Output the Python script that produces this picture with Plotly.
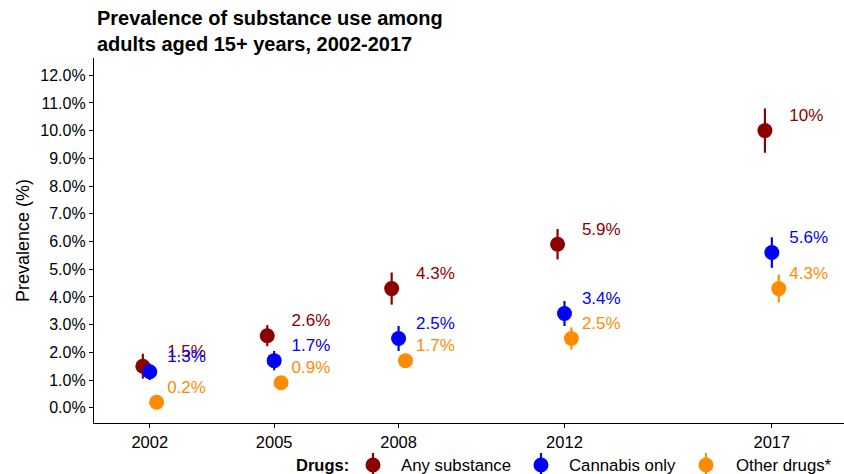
import plotly.graph_objects as go

# Survey years and prevalence estimates (%) with half-width of the 95% CI
years = [2002, 2005, 2008, 2012, 2017]
series_names = ["Any substance", "Cannabis only", "Other drugs*"]
any_substance = [1.5, 2.6, 4.3, 5.9, 10.0]
any_substance_ci = [0.45, 0.38, 0.58, 0.55, 0.8]
cannabis_only = [1.3, 1.7, 2.5, 3.4, 5.6]
cannabis_only_ci = [0.3, 0.35, 0.45, 0.45, 0.55]
other_drugs = [0.2, 0.9, 1.7, 2.5, 4.3]
other_drugs_ci = [0.1, 0.15, 0.25, 0.4, 0.5]
y_ticks = list(range(0, 13))

colors = ["#8B0000", "#0000FF", "#FF8C00"]
values = [any_substance, cannabis_only, other_drugs]
cis = [any_substance_ci, cannabis_only_ci, other_drugs_ci]
dodge = [-1 / 6, 0.0, 1 / 6]

FONT = "Liberation Sans, Arial, Helvetica, sans-serif"

fig = go.Figure()

for name, vals, ci, col, dx in zip(series_names, values, cis, colors, dodge):
    fig.add_trace(go.Scatter(
        x=[y + dx for y in years], y=vals, mode="markers", name=name,
        marker=dict(color=col, size=15, line=dict(width=0)),
        error_y=dict(type="data", array=ci, visible=True, color=col,
                     thickness=2.2, width=0),
        showlegend=False, hoverinfo="skip",
    ))

for name, vals, col in zip(series_names, values, colors):
    fig.add_trace(go.Scatter(
        x=[y + 0.42 for y in years], y=[v + 0.5 for v in vals],
        mode="text", text=[f"{v:g}%" for v in vals],
        textposition="middle right",
        textfont=dict(color=col, size=17, family=FONT),
        showlegend=False, hoverinfo="skip",
    ))

# Plot area in pixels (used to place the title and hand-built legend)
L, R, T, B = 94, 844, 58, 423
W, H = 844, 474


def px_to_paper_x(px):
    return (px - L) / (R - L)


def px_to_paper_y(py):
    return (B - py) / (B - T)


leg_y = px_to_paper_y(465)
shapes = []
annotations = [
    dict(
        text="<b>Prevalence of substance use among<br>adults aged 15+ years, 2002-2017</b>",
        x=px_to_paper_x(95), y=px_to_paper_y(5), xref="paper", yref="paper",
        xanchor="left", yanchor="top", align="left", showarrow=False,
        font=dict(size=20, color="black", family=FONT),
    ),
    dict(
        text="<b>Drugs:</b>", x=px_to_paper_x(294), y=leg_y, xref="paper", yref="paper",
        xanchor="left", yanchor="middle", showarrow=False,
        font=dict(size=16.5, color="black", family=FONT),
    ),
]
legend_marker_px = [373, 541, 706]
legend_text_px = [399, 567, 734]
for name, col, mx, tx in zip(series_names, colors, legend_marker_px, legend_text_px):
    ax = px_to_paper_x(mx)
    shapes.append(dict(type="line", xref="paper", yref="paper",
                       xsizemode="pixel", ysizemode="pixel",
                       xanchor=ax, yanchor=leg_y, x0=0, x1=0, y0=-12, y1=12,
                       line=dict(color=col, width=2.2)))
    shapes.append(dict(type="circle", xref="paper", yref="paper",
                       xsizemode="pixel", ysizemode="pixel",
                       xanchor=ax, yanchor=leg_y, x0=-7.5, x1=7.5, y0=-7.5, y1=7.5,
                       fillcolor=col, line=dict(width=0)))
    annotations.append(dict(
        text=name, x=px_to_paper_x(tx), y=leg_y, xref="paper", yref="paper",
        xanchor="left", yanchor="middle", showarrow=False,
        font=dict(size=16.8, color="black", family=FONT),
    ))

fig.update_layout(
    width=W, height=H,
    margin=dict(l=L, r=W - R, t=T, b=H - B),
    paper_bgcolor="white", plot_bgcolor="white",
    font=dict(family=FONT, color="black"),
    xaxis=dict(
        range=[2000.656, 2018.74], tickvals=years, ticktext=[str(y) for y in years],
        showgrid=False, zeroline=False, showline=True, linecolor="black", linewidth=1.2,
        ticks="outside", ticklen=4, tickcolor="black", tickwidth=1.2,
        tickfont=dict(size=16.5, color="black"),
    ),
    yaxis=dict(
        range=[-0.55, 12.62], tickvals=y_ticks, ticktext=[f"{v:.1f}%" for v in y_ticks],
        showgrid=False, zeroline=False, showline=True, linecolor="black", linewidth=1.2,
        ticks="outside", ticklen=4, tickcolor="black", tickwidth=1.2,
        tickfont=dict(size=16, color="black"),
        title=dict(text="Prevalence (%)", font=dict(size=18, color="black"), standoff=6),
    ),
    shapes=shapes, annotations=annotations, showlegend=False,
)

fig.write_html("out.html")
